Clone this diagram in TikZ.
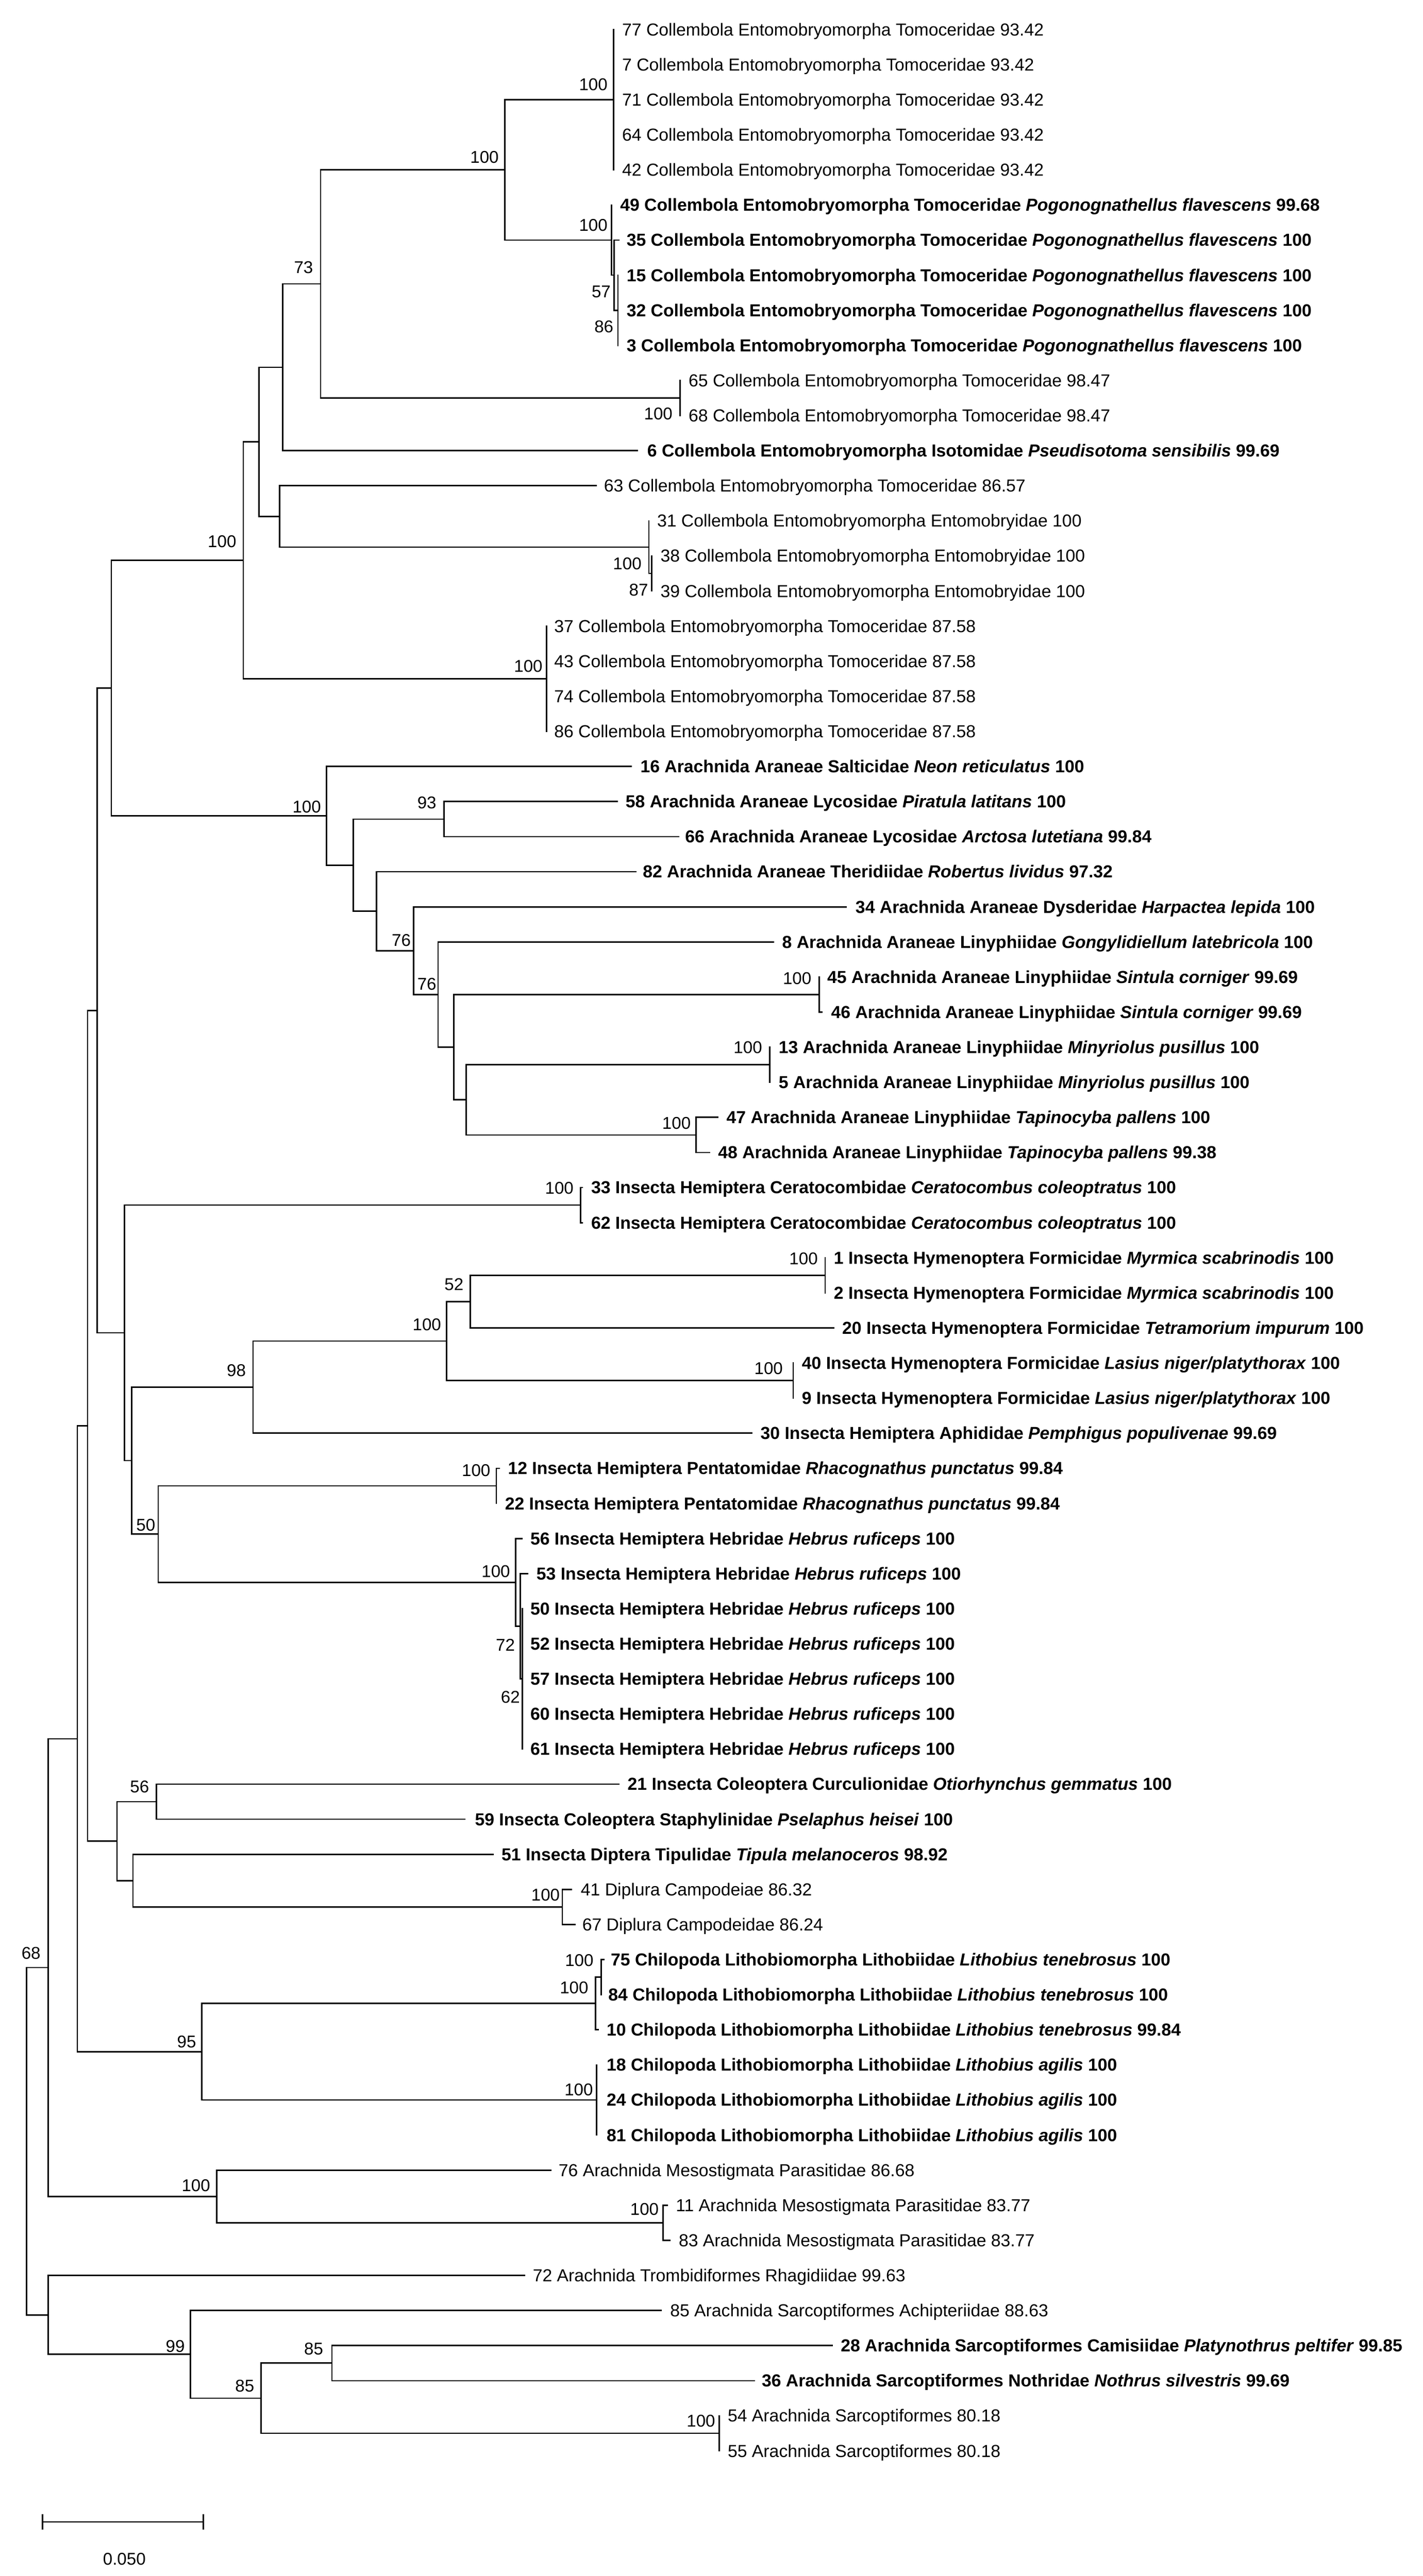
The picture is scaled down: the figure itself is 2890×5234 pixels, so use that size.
\documentclass[tikz,border=0pt]{standalone}
\usepackage{fontspec}
\setmainfont{Liberation Sans}
\begin{document}
\begin{tikzpicture}[x=0.3pt,y=-0.3pt,
  br/.style={line width=0.85pt, line cap=rect},
  lfn/.style={font=\fontsize{10.6}{12}\selectfont, inner sep=0pt, anchor=base west},
  lfb/.style={font=\fontsize{10.6}{12}\selectfont\bfseries, inner sep=0pt, anchor=base west},
  bsl/.style={font=\fontsize{10.4}{12}\selectfont, inner sep=0pt, anchor=base}]
\fill[white] (0,0) rectangle (2890,5234);
\useasboundingbox (0,0) rectangle (2890,5234);
\newcommand{\lf}[6]{\coordinate (#2) at (#3,#5); \node[#1] (#2l) at (#4,#5+12.5) {#6};}
\newcommand{\bsv}[3]{\node[bsl] at (#1,#2+12.5) {#3};}
% ---- leaves
\lf{lfn}{t1}{1246}{1263}{60}{77 Collembola Entomobryomorpha Tomoceridae 93.42}
\lf{lfn}{t2}{1246}{1263}{131.3}{7 Collembola Entomobryomorpha Tomoceridae 93.42}
\lf{lfn}{t3}{1246}{1263}{202.6}{71 Collembola Entomobryomorpha Tomoceridae 93.42}
\lf{lfn}{t4}{1246}{1263}{273.9}{64 Collembola Entomobryomorpha Tomoceridae 93.42}
\lf{lfn}{t5}{1246}{1263}{345.2}{42 Collembola Entomobryomorpha Tomoceridae 93.42}
\lf{lfb}{t6}{1242}{1259}{416.5}{49 Collembola Entomobryomorpha Tomoceridae \textit{Pogonognathellus flavescens} 99.68}
\lf{lfb}{t7}{1257}{1272}{487.8}{35 Collembola Entomobryomorpha Tomoceridae \textit{Pogonognathellus flavescens} 100}
\lf{lfb}{t8}{1255}{1272}{559.1}{15 Collembola Entomobryomorpha Tomoceridae \textit{Pogonognathellus flavescens} 100}
\lf{lfb}{t9}{1255}{1272}{630.4}{32 Collembola Entomobryomorpha Tomoceridae \textit{Pogonognathellus flavescens} 100}
\lf{lfb}{t10}{1255}{1272}{701.7}{3 Collembola Entomobryomorpha Tomoceridae \textit{Pogonognathellus flavescens} 100}
\lf{lfn}{t11}{1381}{1398}{773}{65 Collembola Entomobryomorpha Tomoceridae 98.47}
\lf{lfn}{t12}{1381}{1398}{844.3}{68 Collembola Entomobryomorpha Tomoceridae 98.47}
\lf{lfb}{t13}{1295}{1314}{915.6}{6 Collembola Entomobryomorpha Isotomidae \textit{Pseudisotoma sensibilis} 99.69}
\lf{lfn}{t14}{1211}{1226}{986.9}{63 Collembola Entomobryomorpha Tomoceridae 86.57}
\lf{lfn}{t15}{1318}{1334}{1058.2}{31 Collembola Entomobryomorpha Entomobryidae 100}
\lf{lfn}{t16}{1324}{1341}{1129.5}{38 Collembola Entomobryomorpha Entomobryidae 100}
\lf{lfn}{t17}{1324}{1341}{1200.8}{39 Collembola Entomobryomorpha Entomobryidae 100}
\lf{lfn}{t18}{1110}{1125}{1272.1}{37 Collembola Entomobryomorpha Tomoceridae 87.58}
\lf{lfn}{t19}{1110}{1125}{1343.4}{43 Collembola Entomobryomorpha Tomoceridae 87.58}
\lf{lfn}{t20}{1110}{1125}{1414.7}{74 Collembola Entomobryomorpha Tomoceridae 87.58}
\lf{lfn}{t21}{1110}{1125}{1486}{86 Collembola Entomobryomorpha Tomoceridae 87.58}
\lf{lfb}{t22}{1282}{1300}{1557.3}{16 Arachnida Araneae Salticidae \textit{Neon reticulatus} 100}
\lf{lfb}{t23}{1254}{1270}{1628.6}{58 Arachnida Araneae Lycosidae \textit{Piratula latitans} 100}
\lf{lfb}{t24}{1378}{1391}{1699.9}{66 Arachnida Araneae Lycosidae \textit{Arctosa lutetiana} 99.84}
\lf{lfb}{t25}{1291.5}{1305}{1771.2}{82 Arachnida Araneae Theridiidae \textit{Robertus lividus} 97.32}
\lf{lfb}{t26}{1718.6}{1737}{1842.5}{34 Arachnida Araneae Dysderidae \textit{Harpactea lepida} 100}
\lf{lfb}{t27}{1570.5}{1588}{1913.8}{8 Arachnida Araneae Linyphiidae \textit{Gongylidiellum latebricola} 100}
\lf{lfb}{t28}{1663.5}{1679.5}{1985.1}{45 Arachnida Araneae Linyphiidae \textit{Sintula corniger} 99.69}
\lf{lfb}{t29}{1669}{1687.5}{2056.4}{46 Arachnida Araneae Linyphiidae \textit{Sintula corniger} 99.69}
\lf{lfb}{t30}{1563.6}{1581}{2127.7}{13 Arachnida Araneae Linyphiidae \textit{Minyriolus pusillus} 100}
\lf{lfb}{t31}{1563.6}{1581}{2199}{5 Arachnida Araneae Linyphiidae \textit{Minyriolus pusillus} 100}
\lf{lfb}{t32}{1458}{1475}{2270.3}{47 Arachnida Araneae Linyphiidae \textit{Tapinocyba pallens} 100}
\lf{lfb}{t33}{1441}{1458}{2341.6}{48 Arachnida Araneae Linyphiidae \textit{Tapinocyba pallens} 99.38}
\lf{lfb}{t34}{1183}{1200}{2412.9}{33 Insecta Hemiptera Ceratocombidae \textit{Ceratocombus coleoptratus} 100}
\lf{lfb}{t35}{1183}{1200}{2484.2}{62 Insecta Hemiptera Ceratocombidae \textit{Ceratocombus coleoptratus} 100}
\lf{lfb}{t36}{1676}{1693}{2555.5}{1 Insecta Hymenoptera Formicidae \textit{Myrmica scabrinodis} 100}
\lf{lfb}{t37}{1676}{1693}{2626.8}{2 Insecta Hymenoptera Formicidae \textit{Myrmica scabrinodis} 100}
\lf{lfb}{t38}{1693}{1710}{2698.1}{20 Insecta Hymenoptera Formicidae \textit{Tetramorium impurum} 100}
\lf{lfb}{t39}{1611}{1628}{2769.4}{40 Insecta Hymenoptera Formicidae \textit{Lasius niger/platythorax} 100}
\lf{lfb}{t40}{1611}{1628}{2840.7}{9 Insecta Hymenoptera Formicidae \textit{Lasius niger/platythorax} 100}
\lf{lfb}{t41}{1527}{1544}{2912}{30 Insecta Hemiptera Aphididae \textit{Pemphigus populivenae} 99.69}
\lf{lfb}{t42}{1014}{1031}{2983.3}{12 Insecta Hemiptera Pentatomidae \textit{Rhacognathus punctatus} 99.84}
\lf{lfb}{t43}{1008}{1025}{3054.6}{22 Insecta Hemiptera Pentatomidae \textit{Rhacognathus punctatus} 99.84}
\lf{lfb}{t44}{1060}{1076.5}{3125.9}{56 Insecta Hemiptera Hebridae \textit{Hebrus ruficeps} 100}
\lf{lfb}{t45}{1072}{1089}{3197.2}{53 Insecta Hemiptera Hebridae \textit{Hebrus ruficeps} 100}
\lf{lfb}{t46}{1061}{1076.5}{3268.5}{50 Insecta Hemiptera Hebridae \textit{Hebrus ruficeps} 100}
\lf{lfb}{t47}{1061}{1076.5}{3339.8}{52 Insecta Hemiptera Hebridae \textit{Hebrus ruficeps} 100}
\lf{lfb}{t48}{1061}{1076.5}{3411.1}{57 Insecta Hemiptera Hebridae \textit{Hebrus ruficeps} 100}
\lf{lfb}{t49}{1061}{1076.5}{3482.4}{60 Insecta Hemiptera Hebridae \textit{Hebrus ruficeps} 100}
\lf{lfb}{t50}{1061}{1076.5}{3553.7}{61 Insecta Hemiptera Hebridae \textit{Hebrus ruficeps} 100}
\lf{lfb}{t51}{1257}{1274}{3625}{21 Insecta Coleoptera Curculionidae \textit{Otiorhynchus gemmatus} 100}
\lf{lfb}{t52}{943.6}{964}{3696.3}{59 Insecta Coleoptera Staphylinidae \textit{Pselaphus heisei} 100}
\lf{lfb}{t53}{1001}{1018}{3767.6}{51 Insecta Diptera Tipulidae \textit{Tipula melanoceros} 98.92}
\lf{lfn}{t54}{1160}{1179}{3838.9}{41 Diplura Campodeiae 86.32}
\lf{lfn}{t55}{1167.5}{1182}{3910.2}{67 Diplura Campodeidae 86.24}
\lf{lfb}{t56}{1226}{1240}{3981.5}{75 Chilopoda Lithobiomorpha Lithobiidae \textit{Lithobius tenebrosus} 100}
\lf{lfb}{t57}{1221}{1235}{4052.8}{84 Chilopoda Lithobiomorpha Lithobiidae \textit{Lithobius tenebrosus} 100}
\lf{lfb}{t58}{1215}{1231.6}{4124.1}{10 Chilopoda Lithobiomorpha Lithobiidae \textit{Lithobius tenebrosus} 99.84}
\lf{lfb}{t59}{1212}{1231.6}{4195.4}{18 Chilopoda Lithobiomorpha Lithobiidae \textit{Lithobius agilis} 100}
\lf{lfb}{t60}{1212}{1231.6}{4266.7}{24 Chilopoda Lithobiomorpha Lithobiidae \textit{Lithobius agilis} 100}
\lf{lfb}{t61}{1212}{1231.6}{4338}{81 Chilopoda Lithobiomorpha Lithobiidae \textit{Lithobius agilis} 100}
\lf{lfn}{t62}{1119}{1134}{4409.3}{76 Arachnida Mesostigmata Parasitidae 86.68}
\lf{lfn}{t63}{1355}{1372}{4480.6}{11 Arachnida Mesostigmata Parasitidae 83.77}
\lf{lfn}{t64}{1360}{1378}{4551.9}{83 Arachnida Mesostigmata Parasitidae 83.77}
\lf{lfn}{t65}{1065.5}{1081.5}{4623.2}{72 Arachnida Trombidiformes Rhagidiidae 99.63}
\lf{lfn}{t66}{1343}{1360.5}{4694.5}{85 Arachnida Sarcoptiformes Achipteriidae 88.63}
\lf{lfb}{t67}{1690}{1707}{4765.8}{28 Arachnida Sarcoptiformes Camisiidae \textit{Platynothrus peltifer} 99.85}
\lf{lfb}{t68}{1532.6}{1546.5}{4837.1}{36 Arachnida Sarcoptiformes Nothridae \textit{Nothrus silvestris} 99.69}
\lf{lfn}{t69}{1461}{1477.5}{4908.4}{54 Arachnida Sarcoptiformes 80.18}
\lf{lfn}{t70}{1461}{1477.5}{4979.7}{55 Arachnida Sarcoptiformes 80.18}
% ---- internal nodes
\coordinate (nA) at (1246,202.6);
\coordinate (nP3) at (1255,630.4);
\coordinate (nP2) at (1247,559.1);
\coordinate (nP1) at (1242,487.8);
\coordinate (nB) at (1025,345.2);
\coordinate (nQ1) at (1381,808.65);
\coordinate (nC) at (651,576.9);
\coordinate (nD) at (574,746.25);
\coordinate (nH2) at (1324,1165.15);
\coordinate (nH) at (1318,1111.7);
\coordinate (nG) at (568,1049.3);
\coordinate (nE) at (526,897.8);
\coordinate (nR1) at (1110,1379.05);
\coordinate (nF) at (494,1138.4);
\coordinate (nTp) at (1414,2305.95);
\coordinate (nMn) at (1563.6,2163.35);
\coordinate (nR) at (947,2234.65);
\coordinate (nSt) at (1663.5,2020.75);
\coordinate (nQ) at (921.8,2127.7);
\coordinate (nP) at (889.7,2020.75);
\coordinate (nO) at (840,1931.6);
\coordinate (nN) at (764.6,1851.4);
\coordinate (nL) at (902,1664.25);
\coordinate (nM) at (717.5,1757.8);
\coordinate (nK) at (663.5,1657.55);
\coordinate (nI) at (226,1398);
\coordinate (nCc) at (1179,2448.55);
\coordinate (nMy) at (1676,2591.15);
\coordinate (nY) at (955,2644.6);
\coordinate (nLs) at (1611,2805.05);
\coordinate (nX) at (907,2724.8);
\coordinate (nV) at (514,2818.4);
\coordinate (nRh) at (1008,3018.95);
\coordinate (nHb3) at (1061,3411.1);
\coordinate (nHb2) at (1057,3304.15);
\coordinate (nHb1) at (1047,3215);
\coordinate (nW) at (321.4,3117);
\coordinate (nU) at (267.5,2967.7);
\coordinate (nS) at (252.6,2708.1);
\coordinate (nJ) at (197.5,2053);
\coordinate (nAC) at (318,3660.65);
\coordinate (nDp) at (1142,3874.55);
\coordinate (nAD) at (270,3821.1);
\coordinate (nAB) at (237.6,3740.9);
\coordinate (nT) at (178,2897);
\coordinate (nLt2) at (1221,4017.15);
\coordinate (nLt1) at (1209.7,4070.6);
\coordinate (nLa) at (1212,4266.7);
\coordinate (nAG) at (410,4168.65);
\coordinate (nAA) at (157,3532.8);
\coordinate (nMs2) at (1347,4516.25);
\coordinate (nAI) at (440,4462.8);
\coordinate (nAF) at (97.6,3997.8);
\coordinate (nSr) at (1461,4944.05);
\coordinate (nAM) at (674,4801.45);
\coordinate (nAL) at (530,4872.75);
\coordinate (nAK) at (387,4783.6);
\coordinate (nAJ) at (97.6,4703.4);
\coordinate (nAH) at (54,4350.6);
% ---- branches
\draw[br] (nA) |- (t1) (nA) |- (t5);
\draw[br] (nP3) |- (t8) (nP3) |- (t10);
\draw[br] (nP2) |- (t7) (nP2) |- (nP3);
\draw[br] (nP1) |- (t6) (nP1) |- (nP2);
\draw[br] (nB) |- (nA) (nB) |- (nP1);
\draw[br] (nQ1) |- (t11) (nQ1) |- (t12);
\draw[br] (nC) |- (nB) (nC) |- (nQ1);
\draw[br] (nD) |- (nC) (nD) |- (t13);
\draw[br] (nH2) |- (t16) (nH2) |- (t17);
\draw[br] (nH) |- (t15) (nH) |- (nH2);
\draw[br] (nG) |- (t14) (nG) |- (nH);
\draw[br] (nE) |- (nD) (nE) |- (nG);
\draw[br] (nR1) |- (t18) (nR1) |- (t21);
\draw[br] (nF) |- (nE) (nF) |- (nR1);
\draw[br] (nTp) |- (t32) (nTp) |- (t33);
\draw[br] (nMn) |- (t30) (nMn) |- (t31);
\draw[br] (nR) |- (nMn) (nR) |- (nTp);
\draw[br] (nSt) |- (t28) (nSt) |- (t29);
\draw[br] (nQ) |- (nSt) (nQ) |- (nR);
\draw[br] (nP) |- (t27) (nP) |- (nQ);
\draw[br] (nO) |- (t26) (nO) |- (nP);
\draw[br] (nN) |- (t25) (nN) |- (nO);
\draw[br] (nL) |- (t23) (nL) |- (t24);
\draw[br] (nM) |- (nL) (nM) |- (nN);
\draw[br] (nK) |- (t22) (nK) |- (nM);
\draw[br] (nI) |- (nF) (nI) |- (nK);
\draw[br] (nCc) |- (t34) (nCc) |- (t35);
\draw[br] (nMy) |- (t36) (nMy) |- (t37);
\draw[br] (nY) |- (nMy) (nY) |- (t38);
\draw[br] (nLs) |- (t39) (nLs) |- (t40);
\draw[br] (nX) |- (nY) (nX) |- (nLs);
\draw[br] (nV) |- (nX) (nV) |- (t41);
\draw[br] (nRh) |- (t42) (nRh) |- (t43);
\draw[br] (nHb3) |- (t46) (nHb3) |- (t50);
\draw[br] (nHb2) |- (t45) (nHb2) |- (nHb3);
\draw[br] (nHb1) |- (t44) (nHb1) |- (nHb2);
\draw[br] (nW) |- (nRh) (nW) |- (nHb1);
\draw[br] (nU) |- (nV) (nU) |- (nW);
\draw[br] (nS) |- (nCc) (nS) |- (nU);
\draw[br] (nJ) |- (nI) (nJ) |- (nS);
\draw[br] (nAC) |- (t51) (nAC) |- (t52);
\draw[br] (nDp) |- (t54) (nDp) |- (t55);
\draw[br] (nAD) |- (t53) (nAD) |- (nDp);
\draw[br] (nAB) |- (nAC) (nAB) |- (nAD);
\draw[br] (nT) |- (nJ) (nT) |- (nAB);
\draw[br] (nLt2) |- (t56) (nLt2) |- (t57);
\draw[br] (nLt1) |- (nLt2) (nLt1) |- (t58);
\draw[br] (nLa) |- (t59) (nLa) |- (t61);
\draw[br] (nAG) |- (nLt1) (nAG) |- (nLa);
\draw[br] (nAA) |- (nT) (nAA) |- (nAG);
\draw[br] (nMs2) |- (t63) (nMs2) |- (t64);
\draw[br] (nAI) |- (t62) (nAI) |- (nMs2);
\draw[br] (nAF) |- (nAA) (nAF) |- (nAI);
\draw[br] (nSr) |- (t69) (nSr) |- (t70);
\draw[br] (nAM) |- (t67) (nAM) |- (t68);
\draw[br] (nAL) |- (nAM) (nAL) |- (nSr);
\draw[br] (nAK) |- (t66) (nAK) |- (nAL);
\draw[br] (nAJ) |- (t65) (nAJ) |- (nAK);
\draw[br] (nAH) |- (nAF) (nAH) |- (nAJ);
% ---- bootstrap values
\bsv{1205}{171}{100}
\bsv{984}{319}{100}
\bsv{1205}{457}{100}
\bsv{1221}{592}{57}
\bsv{1226.5}{663}{86}
\bsv{616.5}{543}{73}
\bsv{1337}{840}{100}
\bsv{451}{1100}{100}
\bsv{1274}{1145}{100}
\bsv{1297}{1198}{87}
\bsv{1073}{1353}{100}
\bsv{623}{1639}{100}
\bsv{867}{1630}{93}
\bsv{815}{1909.5}{76}
\bsv{867}{1999}{76}
\bsv{1619}{1987}{100}
\bsv{1519}{2128}{100}
\bsv{1374}{2281.6}{100}
\bsv{1136}{2413.5}{100}
\bsv{1632}{2556.5}{100}
\bsv{922}{2609}{52}
\bsv{867}{2691}{100}
\bsv{480}{2784}{98}
\bsv{1561}{2780}{100}
\bsv{967}{2987}{100}
\bsv{296}{3098}{50}
\bsv{1007}{3192}{100}
\bsv{1026.5}{3341.7}{72}
\bsv{1036.7}{3448}{62}
\bsv{283.5}{3630}{56}
\bsv{1108}{3850}{100}
\bsv{63}{3968}{68}
\bsv{379}{4148}{95}
\bsv{1176.5}{3983}{100}
\bsv{1166}{4038}{100}
\bsv{1175.5}{4245}{100}
\bsv{398}{4440}{100}
\bsv{1309}{4488}{100}
\bsv{356}{4767}{99}
\bsv{497}{4847}{85}
\bsv{637}{4772}{85}
\bsv{1423.6}{4918}{100}
% ---- scale bar
\coordinate (sb1) at (86,5124);
\coordinate (sb2) at (413,5124);
\draw[br] (sb1) -- (sb2);
\draw[br] ([yshift=4.2pt]sb1) -- ([yshift=-4.2pt]sb1);
\draw[br] ([yshift=4.2pt]sb2) -- ([yshift=-4.2pt]sb2);
\node[bsl] (sbl) at (252.6,5211) {0.050};
\end{tikzpicture}
\end{document}
